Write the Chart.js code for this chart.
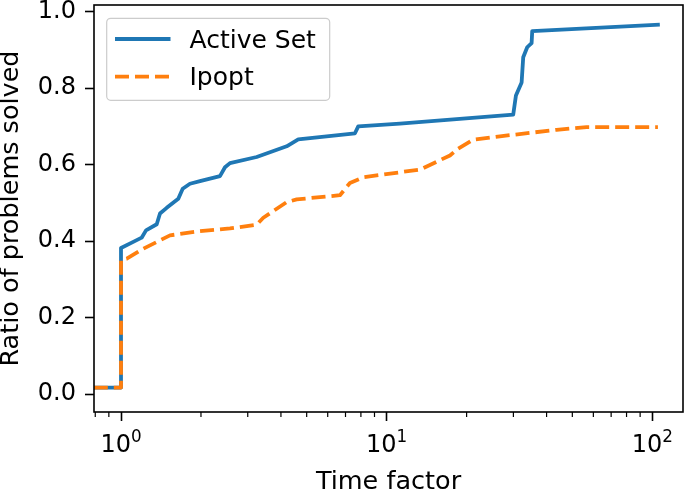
<!DOCTYPE html>
<html><head><meta charset="utf-8">
<script src="https://cdn.jsdelivr.net/npm/chart.js@4/dist/chart.umd.min.js"></script>
<style>html,body{margin:0;padding:0;background:#fff;}#wrap{width:685px;height:489px;}</style>
</head><body><div id="wrap"><canvas id="c" width="685" height="489"></canvas></div>
<script>
const seriesNames = ['Active Set', 'Ipopt'];
const activeX = [0.79, 1.0, 1.0, 1.112, 1.196, 1.242, 1.363, 1.402, 1.486, 1.643, 1.707, 1.818, 1.983, 2.358, 2.463, 2.572, 3.241, 4.204, 4.648, 7.598, 7.818, 11.22, 29.96, 30.67, 32.22, 32.67, 33.82, 35.13, 35.32, 105];
const activeY = [0.017, 0.017, 0.382, 0.398, 0.409, 0.428, 0.444, 0.472, 0.487, 0.511, 0.537, 0.550, 0.557, 0.570, 0.593, 0.604, 0.620, 0.648, 0.666, 0.682, 0.700, 0.707, 0.731, 0.781, 0.815, 0.881, 0.907, 0.918, 0.949, 0.966];
const ipoptX = [0.79, 1.0, 1.0, 1.051, 1.213, 1.529, 1.983, 2.572, 3.241, 3.433, 4.204, 4.584, 6.672, 7.275, 8.166, 11.22, 13.35, 17.31, 18.60, 21.18, 26.69, 43.63, 56.57, 105];
const ipoptY = [0.017, 0.017, 0.350, 0.354, 0.380, 0.415, 0.426, 0.433, 0.443, 0.461, 0.502, 0.509, 0.520, 0.552, 0.567, 0.580, 0.587, 0.624, 0.642, 0.665, 0.674, 0.691, 0.698, 0.698];
const xMajorTicks = [1, 10, 100];
const xMajorBase = '10';
const xMajorExponents = ['0', '1', '2'];
const xMinorTicks = [0.8, 0.9, 2, 3, 4, 5, 6, 7, 8, 9, 20, 30, 40, 50, 60, 70, 80, 90];
const yTicks = [0, 0.2, 0.4, 0.6, 0.8, 1.0];
const xTitle = 'Time factor';
const yTitle = 'Ratio of problems solved';

const FONT = 'DejaVu Sans';
const BLUE = '#1f77b4', ORANGE = '#ff7f0e';
const LW = 3.8;
const DASH = [14, 6];
const TICK_SIZE = 24;

const toPts = (xs, ys) => xs.map((x, i) => ({x: x, y: ys[i]}));

const decorPlugin = {
  id: 'decor',
  afterDraw(chart) {
    const ctx = chart.ctx;
    const a = chart.chartArea;
    const xs = chart.scales.x;
    ctx.save();
    // minor ticks
    ctx.strokeStyle = '#000';
    ctx.lineWidth = 1.2;
    xMinorTicks.forEach(v => {
      const px = xs.getPixelForValue(v);
      if (px < a.left - 0.5 || px > a.right + 0.5) return;
      ctx.beginPath();
      ctx.moveTo(px, a.bottom);
      ctx.lineTo(px, a.bottom + 5);
      ctx.stroke();
    });
    // major x tick labels: base + superscript exponent
    ctx.fillStyle = '#000';
    ctx.textBaseline = 'alphabetic';
    ctx.textAlign = 'left';
    const baseFont = TICK_SIZE + 'px "' + FONT + '"';
    const expFont = (TICK_SIZE * 0.7).toFixed(1) + 'px "' + FONT + '"';
    xMajorTicks.forEach((v, i) => {
      const px = xs.getPixelForValue(v);
      ctx.font = baseFont;
      const wb = ctx.measureText(xMajorBase).width;
      ctx.font = expFont;
      const we = ctx.measureText(xMajorExponents[i]).width;
      const x0 = px - (wb + we) / 2;
      const yb = a.bottom + 40;
      ctx.font = baseFont;
      ctx.fillText(xMajorBase, x0, yb);
      ctx.font = expFont;
      ctx.fillText(xMajorExponents[i], x0 + wb, yb - 10.3);
    });
    // frame
    ctx.strokeStyle = '#000';
    ctx.lineWidth = 1.6;
    ctx.strokeRect(a.left, a.top, a.right - a.left, a.bottom - a.top);
    // legend
    const bx = a.left + 12.7, by = a.top + 13.3, bw = 223, bh = 82;
    ctx.beginPath();
    ctx.roundRect(bx, by, bw, bh, 4);
    ctx.fillStyle = 'rgba(255,255,255,0.8)';
    ctx.fill();
    ctx.strokeStyle = '#cccccc';
    ctx.lineWidth = 1.2;
    ctx.stroke();
    const entries = [
      {name: seriesNames[0], color: BLUE, dash: [], ly: a.top + 34, ty: a.top + 42.5},
      {name: seriesNames[1], color: ORANGE, dash: DASH, ly: a.top + 71.7, ty: a.top + 79.5}
    ];
    entries.forEach(e => {
      ctx.beginPath();
      ctx.setLineDash(e.dash);
      ctx.strokeStyle = e.color;
      ctx.lineWidth = LW;
      ctx.lineCap = 'butt';
      ctx.moveTo(a.left + 21, e.ly);
      ctx.lineTo(a.left + 76.5, e.ly);
      ctx.stroke();
      ctx.setLineDash([]);
      ctx.fillStyle = '#000';
      ctx.font = '25px "' + FONT + '"';
      ctx.textAlign = 'left';
      ctx.textBaseline = 'alphabetic';
      ctx.fillText(e.name, a.left + 95.5, e.ty);
    });
    ctx.restore();
  }
};

new Chart(document.getElementById('c'), {
  type: 'line',
  data: {
    datasets: [
      {label: seriesNames[0], data: toPts(activeX, activeY), borderColor: BLUE, backgroundColor: BLUE,
       borderWidth: LW, pointRadius: 0, tension: 0, fill: false, borderJoinStyle: 'round', borderCapStyle: 'square', order: 1},
      {label: seriesNames[1], data: toPts(ipoptX, ipoptY), borderColor: ORANGE, backgroundColor: ORANGE,
       borderWidth: LW, borderDash: DASH, pointRadius: 0, tension: 0, fill: false, borderJoinStyle: 'round', borderCapStyle: 'butt', order: 0}
    ]
  },
  options: {
    responsive: false,
    animation: false,
    devicePixelRatio: 1,
    layout: {padding: {top: 5, right: 2, left: 0, bottom: 0}},
    plugins: {legend: {display: false}, tooltip: {enabled: false}},
    scales: {
      x: {
        type: 'logarithmic',
        min: 0.7913, max: 130.5,
        afterBuildTicks: s => { s.ticks = [...xMinorTicks, ...xMajorTicks].sort((p, q) => p - q).map(v => ({value: v})); },
        afterFit: s => { s.height = 77; s.paddingLeft = 0; s.paddingRight = 0; },
        ticks: {
          autoSkip: false, maxRotation: 0, minRotation: 0, color: '#000', padding: 7,
          font: {family: FONT, size: TICK_SIZE},
          callback: () => ''
        },
        grid: {drawOnChartArea: false, drawTicks: true, tickLength: 9, tickWidth: 1.6,
          tickColor: c => (c.tick && xMajorTicks.includes(c.tick.value)) ? '#000' : 'rgba(0,0,0,0)'},
        border: {display: false},
        title: {display: true, text: xTitle, color: '#000', font: {family: FONT, size: 25.5, lineHeight: 1}, padding: {top: 0, bottom: -6}}
      },
      y: {
        type: 'linear',
        min: -0.047, max: 1.0175,
        afterBuildTicks: s => { s.ticks = yTicks.map(v => ({value: v})); },
        afterFit: s => { s.width = 94; s.paddingTop = 0; s.paddingBottom = 0; },
        ticks: {autoSkip: false, color: '#000', padding: 9, font: {family: FONT, size: TICK_SIZE}, callback: v => v.toFixed(1)},
        grid: {drawOnChartArea: false, drawTicks: true, tickLength: 9, tickWidth: 1.6, tickColor: '#000'},
        border: {display: false},
        title: {display: true, text: yTitle, color: '#000', font: {family: FONT, size: 25.5, lineHeight: 1}, padding: {top: -1, bottom: 0}}
      }
    }
  },
  plugins: [decorPlugin]
});
</script></body></html>
